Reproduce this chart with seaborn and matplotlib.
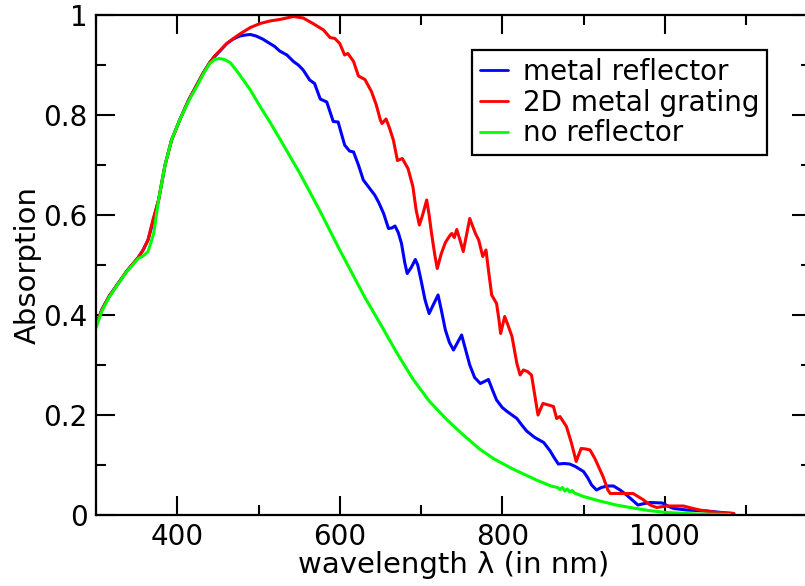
import numpy as np
import pandas as pd
import matplotlib
matplotlib.use("Agg")
import matplotlib.pyplot as plt
from matplotlib.ticker import MultipleLocator
import seaborn as sns

# values
series_names = ["metal reflector", "2D metal grating", "no reflector"]
series_colors = ["#0000ff", "#ff0000", "#00ff00"]

green_wl = [300, 307, 316, 325, 338, 352, 358, 364, 368, 371, 377, 385, 393, 403, 414,
            424, 432, 440, 446, 452, 458, 465, 471, 477, 490, 502, 514, 526, 551, 576,
            600, 631, 649, 670, 690, 710, 731, 750, 772, 790, 813, 842, 860, 868, 871,
            874, 877, 880, 883, 886, 889, 900, 920, 940, 961, 980, 1002, 1040, 1080]
green_abs = [0.374, 0.407, 0.435, 0.457, 0.487, 0.513, 0.518, 0.527, 0.547, 0.563, 0.63,
             0.70, 0.75, 0.79, 0.828, 0.857, 0.882, 0.903, 0.911, 0.913, 0.911, 0.905,
             0.893, 0.88, 0.85, 0.817, 0.786, 0.753, 0.683, 0.607, 0.53, 0.435, 0.385,
             0.325, 0.272, 0.228, 0.192, 0.163, 0.132, 0.112, 0.092, 0.07, 0.058, 0.055,
             0.051, 0.055, 0.048, 0.052, 0.046, 0.049, 0.044, 0.037, 0.028, 0.02, 0.014,
             0.009, 0.005, 0.002, 0.001]

blue_wl = [300, 307, 316, 325, 338, 352, 358, 364, 370, 377, 385, 393, 403, 414, 424,
           432, 440, 446, 452, 461, 469, 477, 484, 490, 497, 505, 514, 520, 526, 535,
           543, 549, 555, 563, 569, 576, 584, 592, 598, 606, 612, 617, 623, 629, 636,
           643, 648, 654, 660, 664, 668, 672, 676, 680, 683, 688, 693, 696, 700, 705,
           710, 715, 721, 725, 730, 735, 740, 745, 750, 755, 760, 766, 773, 778, 783,
           788, 793, 800, 806, 812, 818, 824, 830, 840, 851, 859, 863, 869, 876, 883,
           890, 900, 905, 910, 916, 922, 929, 937, 945, 953, 960, 967, 975, 982, 997,
           1005, 1011, 1027, 1052, 1070, 1085]
blue_abs = [0.378, 0.41, 0.437, 0.458, 0.488, 0.515, 0.53, 0.55, 0.585, 0.63, 0.70, 0.75,
            0.79, 0.83, 0.86, 0.884, 0.905, 0.917, 0.927, 0.943, 0.952, 0.958, 0.96,
            0.961, 0.958, 0.952, 0.943, 0.937, 0.928, 0.92, 0.907, 0.9, 0.89, 0.87,
            0.863, 0.832, 0.826, 0.787, 0.786, 0.74, 0.728, 0.726, 0.70, 0.67, 0.655,
            0.64, 0.625, 0.603, 0.573, 0.574, 0.578, 0.565, 0.543, 0.505, 0.483, 0.495,
            0.511, 0.50, 0.47, 0.43, 0.403, 0.42, 0.44, 0.41, 0.37, 0.345, 0.33, 0.345,
            0.36, 0.33, 0.30, 0.275, 0.263, 0.267, 0.271, 0.25, 0.23, 0.215, 0.207,
            0.20, 0.193, 0.18, 0.168, 0.155, 0.145, 0.128, 0.117, 0.102, 0.103, 0.102,
            0.097, 0.087, 0.075, 0.06, 0.05, 0.055, 0.058, 0.058, 0.05, 0.04, 0.03,
            0.02, 0.023, 0.025, 0.024, 0.017, 0.013, 0.01, 0.008, 0.005, 0.003]

red_wl = [300, 307, 316, 325, 338, 352, 358, 364, 370, 377, 385, 393, 403, 414, 424,
          432, 440, 446, 452, 461, 469, 477, 490, 502, 514, 526, 543, 555, 567, 575,
          580, 588, 594, 600, 606, 610, 617, 623, 631, 639, 645, 650, 652, 657, 661,
          666, 671, 677, 684, 690, 694, 698, 702, 707, 710, 713, 717, 720, 725, 730,
          736, 738, 741, 744, 748, 752, 756, 760, 763, 767, 771, 776, 780, 783, 787,
          793, 796, 798, 803, 807, 812, 818, 822, 826, 831, 836, 840, 844, 850, 857,
          863, 867, 871, 879, 885, 891, 897, 903, 908, 914, 919, 924, 930, 933, 945,
          961, 968, 974, 982, 990, 1002, 1023, 1035, 1043, 1064, 1085]
red_abs = [0.378, 0.41, 0.437, 0.458, 0.488, 0.515, 0.53, 0.55, 0.59, 0.63, 0.70, 0.75,
           0.79, 0.83, 0.86, 0.884, 0.905, 0.918, 0.928, 0.943, 0.953, 0.962, 0.975,
           0.983, 0.988, 0.991, 0.997, 0.994, 0.983, 0.975, 0.97, 0.955, 0.953, 0.943,
           0.92, 0.923, 0.907, 0.878, 0.871, 0.847, 0.82, 0.79, 0.783, 0.792, 0.775,
           0.75, 0.709, 0.713, 0.693, 0.657, 0.61, 0.58, 0.60, 0.63, 0.60, 0.563, 0.52,
           0.493, 0.523, 0.545, 0.56, 0.563, 0.555, 0.571, 0.55, 0.527, 0.56, 0.593,
           0.58, 0.563, 0.55, 0.517, 0.53, 0.49, 0.44, 0.423, 0.39, 0.363, 0.397, 0.38,
           0.357, 0.303, 0.28, 0.29, 0.287, 0.28, 0.24, 0.20, 0.223, 0.22, 0.217,
           0.193, 0.197, 0.177, 0.145, 0.107, 0.133, 0.132, 0.13, 0.113, 0.095, 0.077,
           0.05, 0.043, 0.043, 0.043, 0.036, 0.03, 0.02, 0.015, 0.018, 0.018, 0.013,
           0.01, 0.005, 0.003]

df = pd.concat([
    pd.DataFrame({"wavelength": blue_wl, "absorption": blue_abs, "series": series_names[0]}),
    pd.DataFrame({"wavelength": red_wl, "absorption": red_abs, "series": series_names[1]}),
    pd.DataFrame({"wavelength": green_wl, "absorption": green_abs, "series": series_names[2]}),
], ignore_index=True)

sns.set_style("ticks")
plt.rcParams["font.family"] = ["DejaVu Sans"]
plt.rcParams.update({"text.color": "black", "axes.labelcolor": "black",
                     "xtick.color": "black", "ytick.color": "black",
                     "axes.edgecolor": "black"})

fig = plt.figure(figsize=(8.05, 5.86), dpi=100)
# axes runs a little past the right edge, like the cropped original
ax = fig.add_axes([96 / 805, 71 / 586, 715 / 805, 500 / 586])

sns.lineplot(data=df, x="wavelength", y="absorption", hue="series",
             hue_order=series_names, palette=series_colors, estimator=None,
             sort=False, linewidth=2.2, ax=ax)

ax.set_xlim(300, 1180)
ax.set_ylim(0, 1)
ax.xaxis.set_minor_locator(MultipleLocator(100))
ax.yaxis.set_minor_locator(MultipleLocator(0.1))
ax.set_xticks([400, 600, 800, 1000])
ax.set_yticks([0, 0.2, 0.4, 0.6, 0.8, 1.0])
ax.set_yticklabels(["0", "0.2", "0.4", "0.6", "0.8", "1"])

ax.tick_params(which="both", direction="in", top=True, right=True, width=1.5,
               labelsize=20, pad=6)
ax.tick_params(which="major", length=14)
ax.tick_params(which="minor", length=7)
for sp in ax.spines.values():
    sp.set_linewidth(1.6)

ax.set_xlabel("wavelength λ (in nm)", fontsize=21, labelpad=0)
ax.set_ylabel("Absorption", fontsize=21, labelpad=1)

leg = ax.legend(loc="upper left", bbox_to_anchor=((472 - 96) / 715, (515 - 50) / 500),
                fontsize=20, frameon=True, fancybox=False, handlelength=1.0,
                handletextpad=0.55, borderpad=0.28, labelspacing=0.1, borderaxespad=0)
leg.get_frame().set_edgecolor("black")
leg.get_frame().set_linewidth(1.6)
leg.get_frame().set_alpha(1)
for line in leg.get_lines():
    line.set_linewidth(2.0)

fig.savefig("out.png", dpi=100)
